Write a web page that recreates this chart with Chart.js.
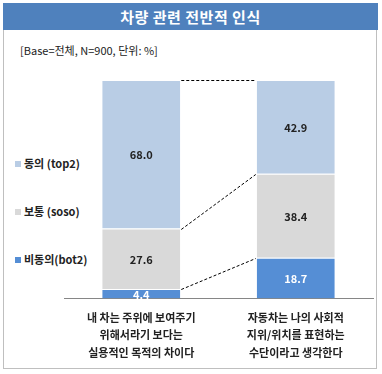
<!DOCTYPE html>
<html>
<head>
<meta charset="utf-8">
<script src="https://cdn.jsdelivr.net/npm/chart.js@4"></script>
<style>
  body { margin: 0; background: #fff; font-family: 'Noto Sans CJK KR', sans-serif; }
  #wrap { position: relative; width: 382px; height: 374px; }
  #frame { position: absolute; left: 3px; top: 3px; width: 374px; height: 366px; border: 1px solid #bfbfbf; box-sizing: border-box; }
  #title { position: absolute; left: 3px; top: 3px; width: 375px; height: 27px; background: #4f81bd; color: #fff;
           font-weight: bold; font-size: 15px; line-height: 27px; text-align: center; letter-spacing: 0.5px; }
  #sub { position: absolute; left: 20px; top: 42px; font-size: 11px; color: #222; }
  .lg { position: absolute; left: 15px; font-size: 11px; font-weight: bold; color: #222; line-height: 14px; }
  .lg span { display: inline-block; width: 6px; height: 6px; margin-right: 3px; vertical-align: 1px; }
  canvas { position: absolute; left: 0; top: 0; }
</style>
</head>
<body>
<div id="wrap">
  <div id="frame"></div>
  <div id="title">차량 관련 전반적 인식</div>
  <div id="sub">[Base=전체, N=900, 단위: %]</div>
  <div id="legend"></div>
  <canvas id="chart" width="382" height="374"></canvas>
</div>
<script>
// chart data
const categories = [
  ['내 차는 주위에 보여주기', '위해서라기 보다는', '실용적인 목적의 차이다'],
  ['자동차는 나의 사회적', '지위/위치를 표현하는', '수단이라고 생각한다']
];
const seriesNames = ['비동의(bot2)', '보통 (soso)', '동의 (top2)'];
const bot2 = [4.4, 18.7];
const soso = [27.6, 38.4];
const top2 = [68.0, 42.9];
const colors = ['#558ed5', '#d9d9d9', '#b9cde5'];
const labelColors = ['#ffffff', '#222222', '#222222'];

// html legend, top item first
const legendTops = [252, 204, 156];
const legendEl = document.getElementById('legend');
seriesNames.forEach(function(name, i) {
  const d = document.createElement('div');
  d.className = 'lg';
  d.style.top = legendTops[i] + 'px';
  d.innerHTML = '<span style="background:' + colors[i] + '"></span>' + name;
  legendEl.appendChild(d);
});

// value labels inside segments
const valueLabels = {
  id: 'valueLabels',
  afterDatasetsDraw(chart) {
    const ctx = chart.ctx;
    ctx.save();
    ctx.font = 'bold 11px "Noto Sans CJK KR"';
    ctx.textAlign = 'center';
    ctx.textBaseline = 'middle';
    chart.data.datasets.forEach(function(ds, i) {
      chart.getDatasetMeta(i).data.forEach(function(bar, j) {
        ctx.fillStyle = labelColors[i];
        ctx.fillText(ds.data[j].toFixed(1), bar.x, (bar.y + bar.base) / 2 + 1);
      });
    });
    ctx.restore();
  }
};

// dashed lines joining segment tops of both bars
const connectors = {
  id: 'connectors',
  afterDatasetsDraw(chart) {
    const ctx = chart.ctx;
    ctx.save();
    ctx.strokeStyle = '#000';
    ctx.lineWidth = 1;
    ctx.setLineDash([3, 2]);
    chart.data.datasets.forEach(function(ds, i) {
      const bars = chart.getDatasetMeta(i).data;
      const a = bars[0], b = bars[1];
      ctx.beginPath();
      ctx.moveTo(a.x + a.width / 2 + 1, Math.round(a.y) + 0.5);
      ctx.lineTo(b.x - b.width / 2 - 1, Math.round(b.y) + 0.5);
      ctx.stroke();
    });
    ctx.restore();
  }
};

new Chart(document.getElementById('chart'), {
  type: 'bar',
  data: {
    labels: categories,
    datasets: [
      { label: seriesNames[0], data: bot2, backgroundColor: colors[0] },
      { label: seriesNames[1], data: soso, backgroundColor: colors[1] },
      { label: seriesNames[2], data: top2, backgroundColor: colors[2] }
    ].map(function(ds) {
      return Object.assign(ds, { borderColor: '#ffffff', borderWidth: { top: 1 }, borderSkipped: 'bottom',
                                 categoryPercentage: 1, barPercentage: 0.505 });
    })
  },
  options: {
    responsive: false,
    animation: false,
    layout: { padding: { left: 64, right: 9, top: 80, bottom: 10 } },
    plugins: { legend: { display: false }, tooltip: { enabled: false } },
    scales: {
      x: {
        stacked: true,
        grid: { display: false },
        border: { color: '#868686' },
        ticks: {
          color: '#222',
          font: { family: 'Noto Sans CJK KR', size: 11, weight: 'bold', lineHeight: 1.62 },
          padding: 2,
          maxRotation: 0
        }
      },
      y: { stacked: true, min: 0, max: 100, display: false }
    }
  },
  plugins: [valueLabels, connectors]
});
</script>
</body>
</html>
